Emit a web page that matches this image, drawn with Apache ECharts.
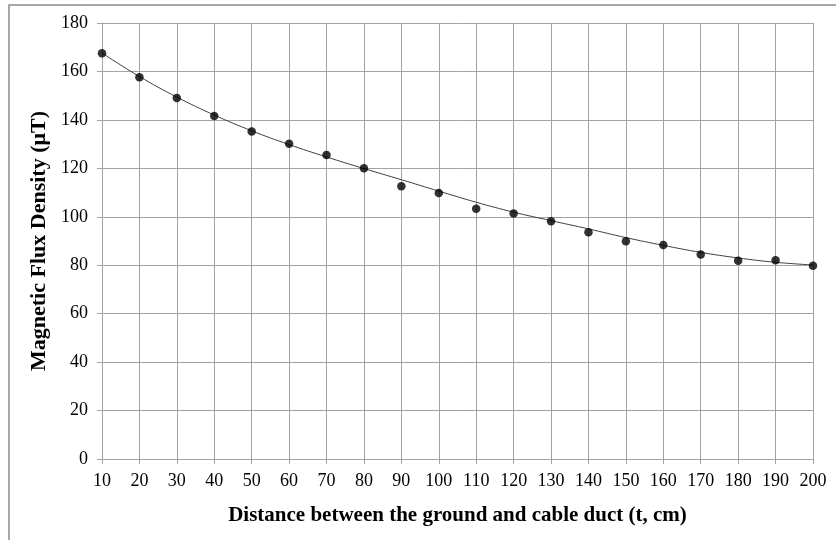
<!DOCTYPE html>
<html>
<head>
<meta charset="utf-8">
<script src="https://cdn.jsdelivr.net/npm/echarts@6/dist/echarts.min.js"></script>
<style>
	html, body { margin: 0; padding: 0; background: #fff; }
	#chart { width: 836px; height: 540px; }
</style>
</head>
<body>
<div id="chart"></div>
<script>
// measured points (distance in cm, flux density in uT)
var distances = [10, 20, 30, 40, 50, 60, 70, 80, 90, 100, 110, 120, 130, 140, 150, 160, 170, 180, 190, 200];
var fluxValues = [167.5, 157.6, 149.0, 141.6, 135.2, 130.1, 125.5, 120.0, 112.6, 109.8, 103.3, 101.4, 98.2, 93.6, 89.9, 88.3, 84.4, 81.8, 82.1, 79.8];
// trend curve
var trendValues = [167.6, 157.9, 149.4, 142.0, 135.5, 129.8, 124.7, 119.9, 115.3, 110.6, 106.0, 101.9, 98.4, 95.0, 91.4, 88.2, 85.3, 83.0, 81.2, 80.1];

var xTitle = 'Distance between the ground and cable duct (t, cm)';
var yTitle = 'Magnetic Flux Density (\u03bcT)';

var fontFamily = '"Liberation Serif", "DejaVu Serif", serif';
var colors = {
	grid: '#a3a3a3',
	frame: '#8c8c8c',
	text: '#000000',
	line: '#404040',
	dot: '#000000'
};

function pairs(xs, ys) {
	var out = [];
	for (var i = 0; i < xs.length; i++) {
		out.push([xs[i], ys[i]]);
	}
	return out;
}

var chart = echarts.init(document.getElementById('chart'));

var axisCommon = {
	axisLine: { show: true, lineStyle: { color: colors.grid, width: 1 } },
	axisTick: { show: true, length: 5, lineStyle: { color: colors.grid } },
	splitLine: { show: true, lineStyle: { color: colors.grid, width: 1 } },
	nameLocation: 'middle'
};

chart.setOption({
	animation: false,
	backgroundColor: '#fff',
	graphic: [{
		type: 'rect',
		shape: { x: 9, y: 5, width: 900, height: 600 },
		style: { fill: 'none', stroke: colors.frame, lineWidth: 1.5 },
		silent: true
	}],
	grid: {
		left: 102,
		right: 23,
		top: 23,
		bottom: 81
	},
	xAxis: Object.assign({}, axisCommon, {
		type: 'value',
		min: 10,
		max: 200,
		interval: 10,
		name: xTitle,
		nameGap: 46,
		nameTextStyle: {
			fontFamily: fontFamily,
			fontSize: 21,
			fontWeight: 'bold',
			color: colors.text
		},
		axisLabel: {
			margin: 13,
			fontFamily: fontFamily,
			fontSize: 18,
			color: colors.text
		}
	}),
	yAxis: Object.assign({}, axisCommon, {
		type: 'value',
		min: 0,
		max: 180,
		interval: 20,
		name: yTitle,
		nameGap: 44,
		nameTextStyle: {
			fontFamily: fontFamily,
			fontSize: 22,
			fontWeight: 'bold',
			color: colors.text
		},
		axisLabel: {
			margin: 14,
			fontFamily: fontFamily,
			fontSize: 18,
			color: colors.text
		}
	}),
	series: [
		{
			type: 'line',
			data: pairs(distances, trendValues),
			smooth: 0.4,
			showSymbol: false,
			lineStyle: { color: colors.line, width: 1 },
			z: 2
		},
		{
			type: 'scatter',
			data: pairs(distances, fluxValues),
			symbol: 'circle',
			symbolSize: 8.5,
			itemStyle: { color: colors.dot },
			z: 3
		}
	]
});
</script>
</body>
</html>
